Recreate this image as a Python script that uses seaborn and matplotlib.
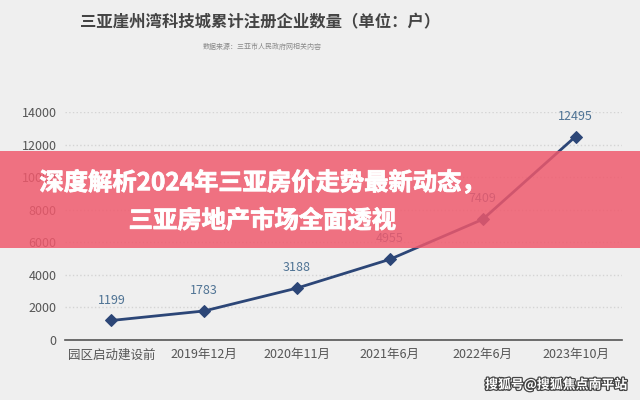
import pandas as pd
import matplotlib.pyplot as plt
import seaborn as sns
import matplotlib.patheffects as pe

# 数据：三亚崖州湾科技城累计注册企业数量
periods = ["园区启动建设前", "2019年12月", "2020年11月", "2021年6月", "2022年6月", "2023年10月"]
companies = [1199, 1783, 3188, 4955, 7409, 12495]
y_ticks = [0, 2000, 4000, 6000, 8000, 10000, 12000, 14000]

chart_title = "三亚崖州湾科技城累计注册企业数量（单位：户）"
chart_source = "数据来源：三亚市人民政府网相关内容"
banner_lines = ["深度解析2024年三亚房价走势最新动态，", "三亚房地产市场全面透视"]
watermark = "搜狐号@搜狐焦点南平站"

df = pd.DataFrame({"时间": periods, "企业数量": companies})

sns.set_theme(style="white")
plt.rcParams["font.family"] = ["Noto Sans CJK SC", "DejaVu Sans"]

fig = plt.figure(figsize=(6.4, 4.0), dpi=100)
fig.patch.set_facecolor("#efefef")
ax = fig.add_axes([65 / 640, 60 / 400, 557 / 640, 228 / 400])
ax.set_facecolor("none")

sns.lineplot(data=df, x="时间", y="企业数量", sort=False, ax=ax,
             color="#2c4677", linewidth=2, marker="D", markersize=6,
             markeredgecolor="#2c4677")

for i, v in enumerate(companies):
    ax.annotate(str(v), (i, v), xytext=(0, 10), textcoords="offset points",
                ha="center", va="bottom", fontsize=9, color="#4f7394")

ax.set_xlim(-0.5, len(periods) - 0.5)
ax.set_ylim(0, 14000)
ax.set_yticks(y_ticks)
ax.set_xlabel("")
ax.set_ylabel("")
ax.tick_params(axis="both", length=0, labelsize=9, labelcolor="#555555", pad=6)
ax.grid(axis="y", color="#d4d4d4", linestyle=":", linewidth=1)
ax.grid(axis="x", visible=False)
for s in ["top", "right", "left"]:
    ax.spines[s].set_visible(False)
ax.spines["bottom"].set_color("#555555")
ax.spines["bottom"].set_linewidth(1.2)

# 标题
fig.text(260 / 640, 1 - 22 / 400, chart_title, ha="center", va="center",
         fontsize=11.8, color="#444444", fontweight="bold")
fig.text(262 / 640, 1 - 47 / 400, chart_source, ha="center", va="center",
         fontsize=5, color="#888888")

# 粉色横幅（半透明，下方内容隐约可见）
banner = plt.Rectangle((0, 1 - 248 / 400), 1, 97 / 400, transform=fig.transFigure,
                       facecolor="#f0596c", alpha=0.84, edgecolor="none", zorder=10)
fig.add_artist(banner)
heavy = [pe.withStroke(linewidth=0.6, foreground="white")]
fig.text(262 / 640, 1 - 183 / 400, banner_lines[0], ha="center", va="center",
         fontsize=17.5, color="white", fontweight="bold", zorder=11, path_effects=heavy)
fig.text(262 / 640, 1 - 221 / 400, banner_lines[1], ha="center", va="center",
         fontsize=17.5, color="white", fontweight="bold", zorder=11, path_effects=heavy)

# 水印
fig.text(556 / 640, 1 - 385 / 400, watermark, ha="center", va="center",
         fontsize=9.3, color="white", fontweight="bold", zorder=11,
         path_effects=[pe.withStroke(linewidth=1.8, foreground="#444444")])

fig.savefig("out.png", dpi=100, facecolor=fig.get_facecolor())
